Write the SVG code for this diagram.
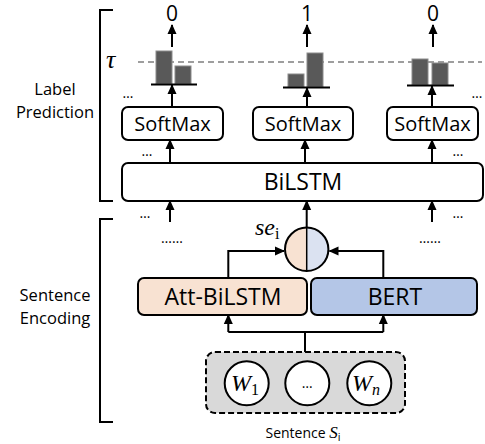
<svg xmlns="http://www.w3.org/2000/svg" width="485" height="444" viewBox="0 0 485 444">
<defs>
<style>
.t{font-family:"Open Sans","Liberation Sans",sans-serif;fill:#000;text-anchor:middle}
.m{font-family:"Liberation Serif","DejaVu Serif",serif;font-style:italic;fill:#000}
.ln{stroke:#000;stroke-width:2;fill:none}
.box{stroke:#000;stroke-width:2;fill:#fff}
.bar{fill:#595959;stroke:#8c8c8c;stroke-width:1}
.dots{font-family:"Open Sans","Liberation Sans",sans-serif;font-size:14px;fill:#000;text-anchor:middle}
</style>
<marker id="ah" markerUnits="userSpaceOnUse" markerWidth="10" markerHeight="10" viewBox="0 0 10 10" refX="9" refY="5" orient="auto">
<path d="M0,0.5 L10,5 L0,9.5 z" fill="#000"/>
</marker>
</defs>

<g id="brackets">
<path class="ln" d="M113,10 H100 V201 H113"/>
<path class="ln" d="M113,219 H100 V422 H113"/>
</g>
<g id="section-labels">
<text class="t" x="55" y="95" font-size="16.5">Label</text>
<text class="t" x="55" y="118" font-size="16.5">Prediction</text>
<text class="t" x="55" y="301" font-size="16.5">Sentence</text>
<text class="t" x="55" y="324" font-size="16.5">Encoding</text>
</g>

<g id="outputs">
<text class="t" x="172" y="21" font-size="21">0</text>
<text class="t" x="307" y="21" font-size="21">1</text>
<text class="t" x="433" y="21" font-size="21">0</text>
</g>

<g id="threshold">
<line x1="138" y1="62" x2="482" y2="62" stroke="#7f7f7f" stroke-width="1.5" stroke-dasharray="6,4"/>
<text class="m" x="106" y="68" font-size="26">τ</text>
</g>

<g id="dist1">
<rect class="bar" x="156" y="51" width="16" height="33"/>
<rect class="bar" x="175" y="66" width="16" height="18"/>
<line x1="151" y1="84.5" x2="197" y2="84.5" stroke="#000" stroke-width="2"/>
</g>
<g id="dist2">
<rect class="bar" x="288" y="74" width="16" height="13"/>
<rect class="bar" x="307" y="53" width="16" height="34"/>
<line x1="283" y1="87.5" x2="330" y2="87.5" stroke="#000" stroke-width="2"/>
</g>
<g id="dist3">
<rect class="bar" x="412" y="59" width="16" height="26"/>
<rect class="bar" x="432" y="63" width="16" height="22"/>
<line x1="407" y1="85.5" x2="454" y2="85.5" stroke="#000" stroke-width="2"/>
</g>

<g id="softmax1">
<rect class="box" x="122" y="107" width="101" height="33" rx="6"/>
<text class="t" x="172.5" y="131" font-size="20">SoftMax</text>
</g>
<g id="softmax2">
<rect class="box" x="253" y="107" width="100" height="33" rx="6"/>
<text class="t" x="303" y="131" font-size="20">SoftMax</text>
</g>
<g id="softmax3">
<rect class="box" x="387" y="107" width="91" height="33" rx="6"/>
<text class="t" x="432.5" y="131" font-size="20">SoftMax</text>
</g>

<g id="bilstm">
<rect class="box" x="122" y="163" width="361" height="38" rx="6"/>
<text class="t" x="303" y="190" font-size="23">BiLSTM</text>
</g>

<g id="fusion">
<path d="M306.7,227.6 A21.7,21.7 0 0 0 306.7,271 Z" fill="#f8e2d2"/>
<path d="M306.7,227.6 A21.7,21.7 0 0 1 306.7,271 Z" fill="#dbe2f1"/>
<circle cx="306.7" cy="249.3" r="21.7" fill="none" stroke="#000" stroke-width="2"/>
<line x1="306.7" y1="227.6" x2="306.7" y2="271" stroke="#000" stroke-width="1.5"/>
<text class="m" x="255" y="235" font-size="24">se<tspan font-style="normal" font-size="16" dy="4">i</tspan></text>
</g>

<g id="att-bilstm">
<rect x="138" y="278" width="169" height="37" rx="6" fill="#f8e2d2" stroke="#000" stroke-width="2"/>
<text class="t" x="223" y="304.5" font-size="23">Att-BiLSTM</text>
</g>
<g id="bert">
<rect x="311" y="278" width="166" height="37" rx="6" fill="#b4c6e7" stroke="#000" stroke-width="2"/>
<text class="t" x="395" y="304.5" font-size="23">BERT</text>
</g>

<g id="sentence">
<rect x="206" y="352" width="199" height="61" rx="9" fill="#d9d9d9" stroke="#000" stroke-width="2" stroke-dasharray="6,3"/>
<circle cx="246.7" cy="383.3" r="22" fill="#fff" stroke="#000" stroke-width="2"/>
<circle cx="307.3" cy="383.3" r="22" fill="#fff" stroke="#000" stroke-width="2"/>
<circle cx="369.3" cy="383.3" r="22" fill="#fff" stroke="#000" stroke-width="2"/>
<text class="m" x="231" y="391" font-size="24">W<tspan font-style="normal" font-size="16" dy="4">1</tspan></text>
<text class="dots" x="307.3" y="388">…</text>
<text class="m" x="352" y="391" font-size="24">W<tspan font-size="16" dy="4">n</tspan></text>
<text class="t" x="303" y="438" font-size="14">Sentence <tspan class="m" font-size="17">S</tspan><tspan font-size="11" dy="3">i</tspan></text>
</g>

<g id="ellipses">
<text class="dots" x="128" y="98">…</text>
<text class="dots" x="477" y="98">…</text>
<text class="dots" x="147" y="156">…</text>
<text class="dots" x="458" y="156">…</text>
<text class="dots" x="145" y="218">…</text>
<text class="dots" x="458" y="218">…</text>
<text class="dots" x="172" y="243">……</text>
<text class="dots" x="430" y="243">……</text>
</g>

<g id="connectors">
<line class="ln" x1="172" y1="47" x2="172" y2="25" marker-end="url(#ah)"/>
<line class="ln" x1="307" y1="47" x2="307" y2="25" marker-end="url(#ah)"/>
<line class="ln" x1="433" y1="47" x2="433" y2="25" marker-end="url(#ah)"/>
<line class="ln" x1="172" y1="107" x2="172" y2="85" marker-end="url(#ah)"/>
<line class="ln" x1="307" y1="107" x2="307" y2="88" marker-end="url(#ah)"/>
<line class="ln" x1="432" y1="107" x2="432" y2="86" marker-end="url(#ah)"/>
<line class="ln" x1="170" y1="163" x2="170" y2="140" marker-end="url(#ah)"/>
<line class="ln" x1="305" y1="163" x2="305" y2="140" marker-end="url(#ah)"/>
<line class="ln" x1="432" y1="163" x2="432" y2="140" marker-end="url(#ah)"/>
<line class="ln" x1="170" y1="222" x2="170" y2="201" marker-end="url(#ah)"/>
<line class="ln" x1="306.7" y1="227.6" x2="306.7" y2="201" marker-end="url(#ah)"/>
<line class="ln" x1="432" y1="222" x2="432" y2="201" marker-end="url(#ah)"/>
<path class="ln" d="M228.3,278 V251 H284" marker-end="url(#ah)"/>
<path class="ln" d="M383.3,278 V251 H329.5" marker-end="url(#ah)"/>
<path class="ln" d="M305,352 V332"/>
<path class="ln" d="M228.3,332 H383.3"/>
<line class="ln" x1="228.3" y1="332" x2="228.3" y2="315" marker-end="url(#ah)"/>
<line class="ln" x1="383.3" y1="332" x2="383.3" y2="315" marker-end="url(#ah)"/>
</g>
</svg>
